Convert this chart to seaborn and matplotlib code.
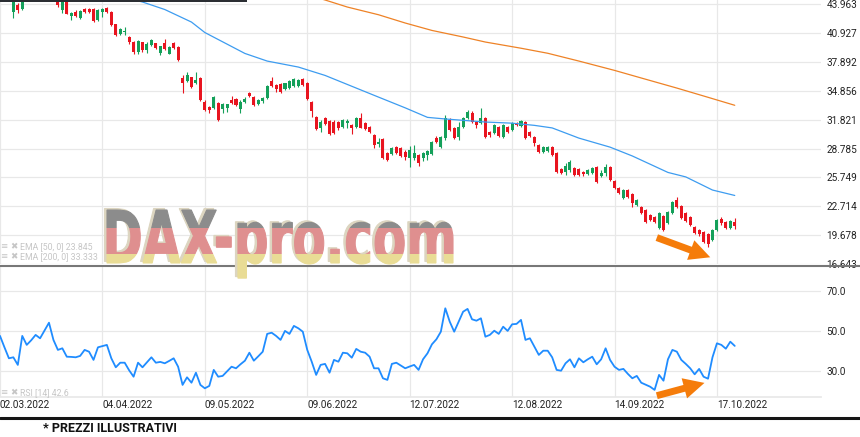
import matplotlib
matplotlib.use('Agg')
import matplotlib.pyplot as plt
import numpy as np
import seaborn as sns
from matplotlib.patches import Rectangle, PathPatch
from matplotlib.textpath import TextPath
from matplotlib.font_manager import FontProperties
from matplotlib.transforms import Affine2D
from matplotlib.lines import Line2D

# daily candles, one per trading day starting 02.03.2022
opens = [46.2, 45.9, 45.2, 43.14, 43.87, 43.45, 44.6, 45.3, 45.8, 45.6,
         45.1, 45.7, 45.3, 44.5, 43.35, 44.5, 42.72, 43.14, 42.51, 43.45,
         43.45, 43.45, 42.29, 43.14, 43.56, 43.14, 41.87, 40.82, 41.03, 40.51,
         39.98, 38.93, 39.98, 39.14, 39.66, 39.87, 38.82, 39.87, 38.72, 39.87,
         39.45, 36.19, 35.87, 36.29, 35.66, 36.19, 33.66, 33.14, 33.03, 33.56,
         32.93, 33.03, 33.87, 33.98, 32.93, 33.66, 34.61, 34.19, 33.45, 33.77,
         34.08, 35.87, 35.45, 35.56, 35.03, 35.14, 35.35, 35.35, 36.08, 35.66,
         33.66, 32.08, 30.93, 31.98, 31.66, 31.56, 31.56, 31.03, 31.45, 31.24,
         31.03, 31.98, 31.45, 31.03, 30.19, 29.24, 29.77, 28.29, 28.19, 28.93,
         28.82, 28.40, 27.77, 27.77, 28.08, 27.77, 28.08, 28.19, 29.87, 28.93,
         29.87, 31.77, 30.93, 29.98, 31.03, 31.98, 32.51, 31.56, 31.45, 31.98,
         30.51, 30.40, 31.03, 29.98, 31.03, 30.72, 31.45, 31.14, 31.56, 30.51,
         29.98, 29.14, 28.40, 28.50, 28.93, 28.29, 26.61, 26.29, 26.51, 26.72,
         26.61, 26.29, 26.08, 26.19, 26.82, 25.87, 26.19, 26.82, 25.35, 24.61,
         23.56, 24.40, 23.98, 22.82, 22.61, 22.29, 21.77, 21.56, 20.40, 21.66,
         20.93, 21.98, 23.35, 22.72, 21.98, 21.56, 20.51, 20.19, 19.98, 19.77,
         19.14, 20.19, 21.35, 21.03, 20.40, 21.03]
highs = [46.8, 46.3, 45.6, 45.2, 44.1, 45.0, 45.6, 46.0, 46.4, 46.1,
         45.9, 46.0, 45.6, 44.9, 44.8, 44.7, 43.14, 43.35, 43.35, 43.56,
         43.6, 43.56, 43.45, 43.56, 43.66, 43.2, 41.9, 41.45, 41.56, 40.61,
         40.08, 40.19, 40.03, 39.98, 40.29, 39.9, 39.6, 40.29, 39.56, 39.98,
         39.56, 36.51, 36.82, 36.35, 36.82, 36.3, 33.87, 33.24, 34.29, 33.66,
         33.56, 33.5, 34.29, 34.08, 33.87, 34.19, 34.72, 34.29, 33.98, 34.19,
         35.45, 36.29, 35.56, 35.66, 35.7, 35.98, 36.19, 36.08, 36.19, 35.77,
         33.77, 32.19, 31.77, 32.08, 31.77, 31.77, 31.66, 31.87, 31.87, 31.35,
         32.08, 32.51, 31.56, 31.14, 30.29, 29.87, 29.87, 28.40, 28.93, 29.03,
         28.93, 28.61, 29.03, 29.14, 28.19, 28.40, 28.61, 29.56, 30.08, 30.08,
         32.29, 31.98, 31.03, 31.56, 32.08, 32.82, 32.72, 31.66, 33.03, 32.08,
         30.61, 31.35, 31.14, 31.35, 31.14, 31.56, 31.56, 31.77, 31.66, 30.61,
         30.08, 29.24, 29.03, 29.03, 29.03, 28.40, 26.72, 27.24, 27.56, 26.82,
         26.72, 26.40, 26.61, 26.82, 26.93, 26.51, 27.14, 26.93, 25.45, 24.72,
         24.51, 24.51, 24.08, 23.45, 22.72, 22.40, 21.87, 21.66, 22.08, 21.77,
         22.19, 23.24, 23.66, 22.82, 22.08, 21.66, 20.61, 20.29, 20.08, 19.87,
         20.29, 21.35, 21.56, 21.14, 21.24, 21.45]
lows = [45.6, 44.9, 44.6, 42.51, 43.03, 43.35, 44.5, 45.0, 45.4, 44.9,
        44.8, 45.0, 44.6, 43.66, 43.03, 42.9, 42.29, 42.61, 42.40, 43.03,
        43.0, 42.1, 42.2, 42.61, 43.03, 41.7, 40.6, 40.75, 40.72, 39.77,
        38.72, 38.72, 38.93, 38.82, 39.6, 39.24, 38.61, 39.14, 38.68, 39.3,
        37.98, 34.61, 35.8, 35.15, 35.6, 33.77, 32.72, 32.51, 32.93, 31.66,
        32.51, 32.61, 33.5, 33.24, 32.51, 33.56, 34.19, 33.24, 33.35, 33.56,
        33.98, 35.24, 34.72, 34.61, 34.93, 35.03, 35.24, 35.24, 35.35, 33.87,
        32.08, 30.72, 30.51, 31.24, 30.19, 30.29, 30.72, 30.93, 30.93, 30.29,
        30.93, 30.9, 30.72, 30.40, 28.82, 28.93, 27.66, 27.45, 28.08, 28.19,
        27.87, 27.56, 26.82, 27.56, 26.93, 27.45, 27.56, 28.08, 29.35, 28.82,
        29.66, 30.61, 29.77, 29.66, 30.93, 31.87, 31.45, 30.93, 31.4, 29.87,
        29.98, 30.29, 29.98, 29.87, 30.40, 30.61, 31.14, 31.03, 29.77, 29.98,
        29.03, 28.29, 28.29, 28.40, 27.98, 26.19, 26.08, 25.98, 26.29, 25.87,
        25.87, 25.87, 25.98, 26.08, 25.14, 25.77, 25.87, 25.35, 24.51, 23.98,
        23.45, 23.56, 22.61, 22.72, 21.87, 20.93, 21.14, 20.93, 20.29, 20.08,
        20.82, 21.87, 22.51, 21.35, 21.03, 20.61, 19.77, 19.56, 18.82, 18.40,
        19.03, 20.08, 20.72, 20.29, 20.29, 20.29]
closes = [45.9, 45.2, 44.8, 44.8, 43.35, 44.6, 45.3, 45.8, 45.6, 45.1,
          45.7, 45.3, 44.9, 43.87, 44.5, 42.93, 43.03, 42.72, 43.24, 43.14,
          43.14, 42.19, 43.35, 43.45, 43.14, 41.77, 40.72, 41.35, 41.14, 39.98,
          38.93, 40.08, 39.14, 39.77, 40.19, 39.35, 39.56, 39.24, 39.45, 39.35,
          38.08, 35.66, 36.51, 35.24, 35.98, 33.87, 32.82, 32.82, 34.19, 31.77,
          33.45, 33.45, 33.56, 33.35, 33.66, 33.98, 34.29, 33.35, 33.87, 34.08,
          35.35, 35.35, 35.03, 34.72, 35.66, 35.87, 36.08, 35.98, 35.45, 33.98,
          32.72, 30.82, 31.56, 31.35, 30.29, 30.40, 30.93, 31.77, 31.66, 30.93,
          31.98, 30.93, 30.82, 30.51, 29.14, 29.45, 27.77, 27.56, 28.82, 28.29,
          27.98, 27.87, 28.61, 28.29, 27.24, 28.29, 28.50, 29.45, 29.45, 29.98,
          31.98, 30.72, 29.87, 31.03, 31.98, 32.61, 31.56, 31.24, 31.98, 29.98,
          30.19, 31.24, 30.08, 31.24, 30.51, 31.45, 31.24, 31.66, 29.87, 30.08,
          29.35, 28.40, 28.93, 28.93, 28.08, 26.29, 26.19, 26.93, 27.35, 25.98,
          25.98, 26.08, 26.51, 26.72, 25.24, 26.19, 26.82, 25.45, 24.61, 24.08,
          24.40, 23.66, 23.03, 23.35, 21.98, 21.03, 21.24, 21.03, 21.98, 20.19,
          22.08, 23.14, 22.61, 21.45, 21.14, 20.72, 19.87, 19.77, 18.93, 18.72,
          20.19, 21.24, 20.93, 20.40, 21.14, 20.61]

rsi = [47.7, 42.0, 36.5, 37.0, 33.2, 47.7, 43.2, 45.5, 48.2, 46.5,
       50.4, 54.3, 45.7, 40.7, 41.5, 37.3, 37.2, 37.0, 37.7, 40.7,
       39.8, 35.7, 42.0, 42.6, 43.2, 36.5, 32.0, 34.3, 34.3, 30.5,
       27.3, 34.3, 32.0, 34.5, 37.0, 34.3, 34.7, 34.0, 35.2, 36.5,
       32.3, 23.2, 27.0, 24.3, 29.3, 23.2, 21.5, 22.7, 30.7, 27.3,
       27.7, 30.0, 32.3, 31.5, 33.5, 35.3, 39.3, 35.3, 37.5, 39.8,
       48.7, 49.3, 47.7, 45.7, 50.2, 48.7, 52.7, 51.5, 49.8, 40.7,
       34.8, 28.2, 33.2, 33.7, 29.3, 35.7, 34.8, 39.3, 39.0, 36.8,
       41.2, 39.8, 39.3, 37.3, 31.5, 31.5, 26.5, 25.7, 33.7, 34.3,
       32.9, 31.5, 32.4, 33.2, 30.7, 36.0, 39.0, 43.5, 46.0, 49.8,
       61.5, 54.8, 49.8, 54.8, 59.8, 61.2, 56.0, 55.3, 56.5, 47.3,
       48.2, 50.3, 48.7, 52.3, 50.2, 53.5, 53.7, 55.7, 45.7, 46.5,
       42.3, 38.2, 40.3, 40.3, 37.0, 30.7, 30.3, 34.0, 36.0, 32.0,
       36.5, 34.5, 36.0, 37.3, 33.5, 36.0, 41.5, 35.7, 32.3, 30.7,
       31.2, 28.7, 26.5, 27.7, 24.3, 23.3, 22.3, 20.7, 28.2, 25.3,
       36.0, 40.7, 39.8, 35.7, 33.7, 31.5, 28.5, 31.2, 27.3, 26.3,
       37.0, 44.0, 43.2, 41.3, 44.8, 42.7]

# moving averages read at a few trading-day positions
ema50_idx = [0, 20, 32, 37, 43, 46, 55, 60, 67, 73, 84, 91, 96, 100, 109,
             115, 120, 124, 130, 137, 142, 150, 154, 160, 165]
ema50 = [47.6, 45.6, 44.19, 43.4, 42.08, 40.98, 38.78, 37.98, 37.35, 36.47,
         34.38, 33.06, 32.06, 31.89, 31.57, 31.45, 31.22, 30.95, 29.88, 28.93,
         28.0, 26.27, 25.8, 24.42, 23.85]
ema200_idx = [60, 73, 78, 85, 91, 97, 104, 109, 117, 123, 130, 138, 144, 152, 159, 165]
ema200 = [46.2, 44.40, 43.66, 42.85, 41.98, 41.20, 40.51, 39.98, 39.33, 38.80,
          37.98, 37.0, 36.2, 35.14, 34.17, 33.33]

date_idx = [0, 23, 46, 69, 92, 115, 138, 161]
date_labels = ['02.03.2022', '04.04.2022', '09.05.2022', '09.06.2022',
               '12.07.2022', '12.08.2022', '14.09.2022', '17.10.2022']
price_ticks = [16.643, 19.678, 22.714, 25.749, 28.785, 31.821, 34.856, 37.892, 40.927, 43.963]
price_labels = ['16.643', '19.678', '22.714', '25.749', '28.785', '31.821',
                '34.856', '37.892', '40.927', '43.963']
rsi_ticks = [30, 50, 70]
rsi_labels = ['30.0', '50.0', '70.0']

sns.set_theme(style='white')
plt.rcParams['font.family'] = ['Roboto', 'DejaVu Sans']

W, H = 860, 437
fig = plt.figure(figsize=(W / 100, H / 100), dpi=100)
px = Affine2D().scale(1 / W, 1 / H) + fig.transFigure  # pixel coords, origin bottom-left


def fy(y):
    return H - y


RIGHT = 821
step = 4.453
ax1 = fig.add_axes([0, fy(264) / H, RIGHT / W, 264 / H])
ax2 = fig.add_axes([0, fy(397.3) / H, RIGHT / W, (397.3 - 266) / H])

grid_c = '#e8e8e8'
for ax in (ax1, ax2):
    ax.set_xlim(0, RIGHT / step)
    for s in ax.spines.values():
        s.set_visible(False)
    ax.yaxis.tick_right()
    ax.tick_params(axis='both', length=0, labelsize=7.2, colors='#222222')
    ax.tick_params(axis='y', pad=4)
    ax.tick_params(axis='x', pad=2)
    ax.grid(True, color=grid_c, lw=0.9)
    ax.set_axisbelow(True)
    ax.set_xticks(date_idx)

# candles
idx = np.arange(len(opens))
o, h, l, c = (np.array(a) for a in (opens, highs, lows, closes))
RED, GREEN = '#e8141f', '#14a05a'
col = np.where(c >= o, GREEN, RED)
ax1.vlines(idx, l, h, colors=col, lw=0.8)
ax1.bar(idx, np.maximum(np.abs(c - o), 0.09), bottom=np.minimum(o, c),
        width=0.68, color=col, linewidth=0)

sns.lineplot(x=ema50_idx, y=ema50, ax=ax1, color='#3d9cf0', lw=0.9)
sns.lineplot(x=ema200_idx, y=ema200, ax=ax1, color='#ee8226', lw=0.9)

ax1.set_ylim(16.643, 44.40)
ax1.set_yticks(price_ticks)
ax1.set_yticklabels(price_labels)
ax1.tick_params(labelbottom=False)
ax1.set_xlabel('')
ax1.set_ylabel('')

sns.lineplot(x=idx, y=rsi, ax=ax2, color='#1f8cff', lw=1.3)
ax2.set_ylim(17.0, 82.65)
ax2.set_yticks(rsi_ticks)
ax2.set_yticklabels(rsi_labels)
ax2.set_xticklabels(date_labels, ha='left')
ax2.spines['bottom'].set_visible(True)
ax2.spines['bottom'].set_color(grid_c)
ax2.set_xlabel('')
ax2.set_ylabel('')

# orange hand-drawn arrows
arrow = dict(arrowstyle='simple,head_length=15,head_width=15,tail_width=5',
             mutation_scale=1, color='#f57c0a', lw=0, shrinkA=0, shrinkB=0)
ax1.annotate('', xy=(159.5, 17.35), xytext=(147.5, 19.42), arrowprops=arrow,
             annotation_clip=False)
ax2.annotate('', xy=(158.2, 24.2), xytext=(147.5, 17.8), arrowprops=arrow,
             annotation_clip=False)

# frame lines
fig.add_artist(Rectangle((0, fy(2.2)), 247, 2.2, transform=px, color='#2b2e33', lw=0))
fig.add_artist(Line2D([0, W], [fy(265.5)] * 2, transform=px, color='#777777', lw=1.5))
fig.add_artist(Line2D([0, W], [fy(418)] * 2, transform=px, color='#151515', lw=2.2))

# faded indicator captions
cap_kw = dict(fontsize=6.3, color='#c6c6c6', va='center', ha='left',
              family=['Roboto', 'DejaVu Sans'])
for ypos, label in [(246.5, 'EMA [50, 0] 23.845'), (256.5, 'EMA [200, 0] 33.333'),
                    (393, 'RSI [14] 42.6')]:
    fig.text(0.5 / W, fy(ypos) / H, '≡', **cap_kw)
    fig.text(10.5 / W, fy(ypos) / H, '✖', **cap_kw)
    fig.text(20 / W, fy(ypos) / H, label, **cap_kw)

fig.text(43 / W, fy(428.5) / H, '* PREZZI ILLUSTRATIVI', fontsize=9,
         fontweight='bold', color='#111111', va='center', ha='left')

# watermark
fp = FontProperties(family='DejaVu Sans', weight='bold')
tp = TextPath((0, 0), 'DAX-pro.com', size=1, prop=fp)
bb = tp.get_extents()
cap_h = TextPath((0, 0), 'D', size=1, prop=fp).get_extents().height
sx = (453 - 107) / bb.width
sy = (263 - 210) / cap_h
shadow_tr = Affine2D().translate(-bb.x0, 0).scale(sx, sy).translate(107 - 2.5, fy(263) + 1.5) + px
wm_tr = Affine2D().translate(-bb.x0, 0).scale(sx, sy).translate(107, fy(263)) + px
fig.add_artist(PathPatch(tp, transform=shadow_tr, fc='#dcd5c0', ec='#dcd5c0', lw=0.8, zorder=5))
for y0, y1, fc in [(190, 228, '#8c8c8c'), (228, 253.5, '#df8f8f'), (253.5, 285, '#e9dc95')]:
    p = PathPatch(tp, transform=wm_tr, fc=fc, ec=fc, lw=0.8, zorder=6)
    clip = Rectangle((0, fy(y1)), W, y1 - y0, transform=px)
    p.set_clip_path(clip)
    fig.add_artist(p)

fig.savefig('out.png', dpi=100)
